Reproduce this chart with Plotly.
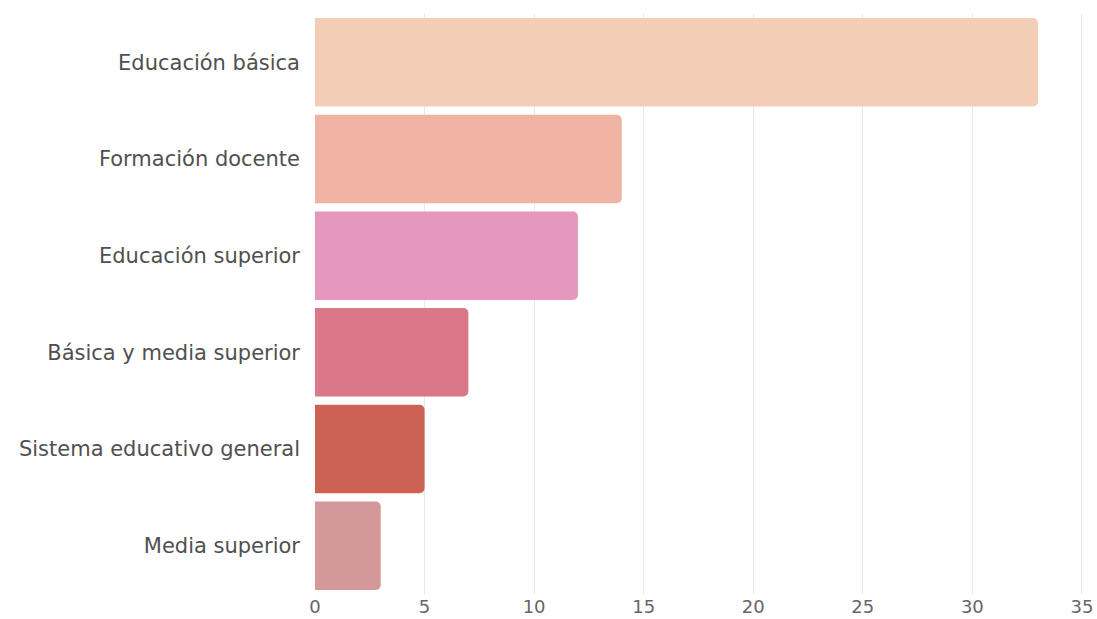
import plotly.graph_objects as go

categories = ["Educación básica", "Formación docente", "Educación superior",
              "Básica y media superior", "Sistema educativo general", "Media superior"]
values = [33, 14, 12, 7, 5, 3]
colors = ["#F3CDB5", "#EEB3A2", "#E597BE", "#DA7788", "#CC6254", "#D4989B"]
x_ticks = [0, 5, 10, 15, 20, 25, 30, 35]

fig = go.Figure(go.Bar(
    y=categories, x=values, orientation="h",
    marker=dict(color=colors, cornerradius=5, line=dict(width=0)),
    hoverinfo="x+y",
))

fig.update_layout(
    width=1097, height=619,
    margin=dict(l=315, r=14, t=14, b=25),
    paper_bgcolor="white", plot_bgcolor="white",
    bargap=0.085,
    font=dict(family="DejaVu Sans, sans-serif", color="#505050", size=21),
    showlegend=False,
    xaxis=dict(range=[0, 35.05], tickvals=x_ticks, showgrid=True, gridcolor="#e8e8e8",
               gridwidth=1, zeroline=False, showline=False, ticks="", automargin=False,
               tickfont=dict(size=18, color="#666666")),
    yaxis=dict(autorange="reversed", showgrid=False, zeroline=False, showline=False,
               ticks="", ticklabelstandoff=14, automargin=False,
               tickfont=dict(size=21, color="#505050")),
)

fig.write_html("out.html", config={"displayModeBar": False},
               post_script="document.body.style.margin='0';document.body.style.overflow='hidden';")
